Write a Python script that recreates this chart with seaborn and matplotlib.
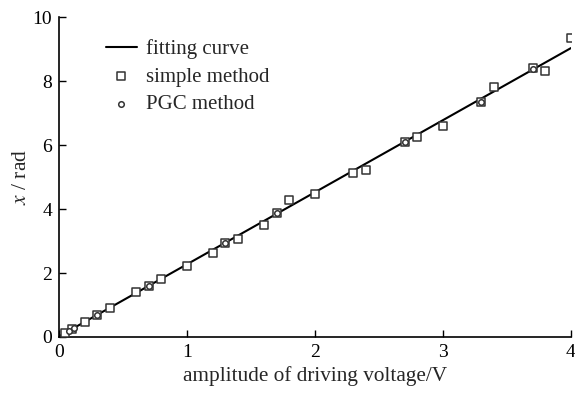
import matplotlib
matplotlib.use("Agg")
import matplotlib.pyplot as plt
import numpy as np
import pandas as pd
import seaborn as sns

# data
simple_x = [0.05, 0.1, 0.2, 0.3, 0.4, 0.6, 0.7, 0.8, 1.0, 1.2, 1.3, 1.4, 1.6, 1.7,
            1.8, 2.0, 2.3, 2.4, 2.7, 2.8, 3.0, 3.3, 3.4, 3.7, 3.8, 4.0]
simple_y = [0.12, 0.25, 0.48, 0.68, 0.9, 1.42, 1.58, 1.8, 2.22, 2.64, 2.93, 3.05, 3.5, 3.88,
            4.27, 4.46, 5.12, 5.22, 6.08, 6.24, 6.6, 7.33, 7.8, 8.4, 8.3, 9.35]
pgc_x = [0.08, 0.12, 0.3, 0.7, 1.3, 1.7, 2.7, 3.3, 3.7]
pgc_y = [0.18, 0.27, 0.68, 1.58, 2.93, 3.86, 6.08, 7.35, 8.38]
fit_x = [0.0, 4.0]
fit_y = [0.02, 9.03]

sns.set_theme(style="ticks")
plt.rcParams["font.family"] = ["Liberation Serif", "DejaVu Serif"]
plt.rcParams["mathtext.fontset"] = "stix"

fig = plt.figure(figsize=(5.75, 3.93), dpi=100)
ax = fig.add_axes([0.1026, 0.1425, 0.8904, 0.8142])

sns.lineplot(x=fit_x, y=fit_y, ax=ax, color="black", linewidth=1.5, label="fitting curve")
sns.scatterplot(x=simple_x, y=simple_y, ax=ax, marker="s", s=26, facecolor="white",
                edgecolor="#333333", linewidth=1.1, label="simple method", zorder=3)
sns.scatterplot(x=pgc_x, y=pgc_y, ax=ax, marker="o", s=16, facecolor="white",
                edgecolor="#333333", linewidth=1.1, label="PGC method", zorder=4)

ax.set_xlim(0, 4)
ax.set_ylim(0, 10)
ax.set_xticks([0, 1, 2, 3, 4])
ax.set_yticks([0, 2, 4, 6, 8, 10])
ax.tick_params(direction="in", length=5, width=1.0, labelsize=14, colors="black", pad=5)
for side in ["top", "right"]:
    ax.spines[side].set_visible(False)
for side in ["left", "bottom"]:
    ax.spines[side].set_linewidth(1.2)
    ax.spines[side].set_color("black")

ax.set_xlabel("amplitude of driving voltage/V", fontsize=15.3, labelpad=4)
ax.set_ylabel(r"$x$ / rad", fontsize=15.5, labelpad=1)

ax.legend(loc="upper left", bbox_to_anchor=(0.075, 0.957), frameon=False, fontsize=15,
          handlelength=1.5, labelspacing=0.38, handletextpad=0.45, borderaxespad=0)

fig.savefig("out.png", dpi=100)
